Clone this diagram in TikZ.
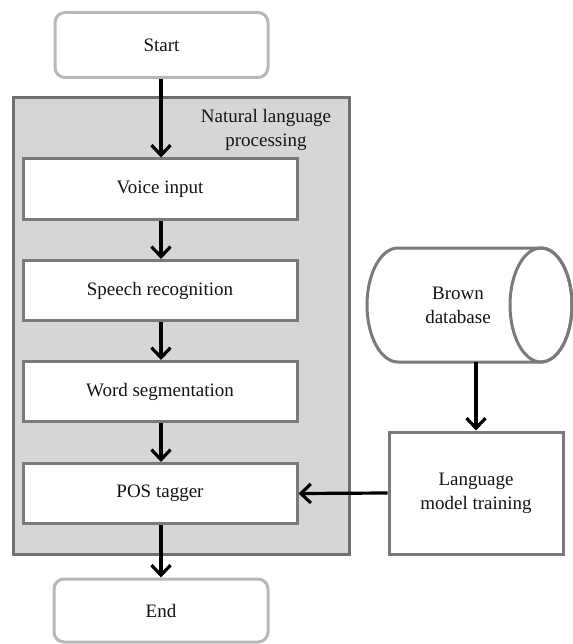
\documentclass[tikz,border=0pt]{standalone}
\usepackage{fontspec}
\setmainfont{Liberation Serif}
\usetikzlibrary{arrows.meta}

\definecolor{termline}{RGB}{184,184,184}
\definecolor{boxline}{RGB}{122,122,122}
\definecolor{groupline}{RGB}{112,112,112}
\definecolor{groupfill}{RGB}{214,214,214}
\definecolor{ink}{RGB}{20,20,20}

\tikzset{
  txt/.style={font=\fontsize{19}{24}\selectfont, text=ink, align=center},
  terminal/.style={txt, draw=termline, line width=3pt, fill=white,
    rounded corners=10pt, inner sep=0pt, minimum width=213pt, minimum height=65pt},
  stepbox/.style={txt, draw=boxline, line width=3pt, fill=white,
    inner sep=0pt, minimum width=274pt, minimum height=60pt},
  group/.style={draw=groupline, line width=3pt, fill=groupfill, inner sep=0pt},
  dbline/.style={draw=boxline, line width=3pt},
  flow/.style={line width=3.2pt, black,
    -{Straight Barb[length=10pt,width=19pt,line width=3.2pt]}}
}

\begin{document}
\begin{tikzpicture}[x=1pt,y=-1pt]
  \useasboundingbox (0,0) rectangle (572,644);

  % processing group
  \node[group, minimum width=336pt, minimum height=456pt] (nlp) at (181,326) {};
  \node[txt] (nlplabel) at (266,130) {Natural language\\processing};

  % main flow
  \node[terminal] (start) at (161.5,45) {Start};
  \node[stepbox] (voice)  at (160,189)   {Voice input};
  \node[stepbox] (speech) at (160,290.5) {Speech recognition};
  \node[stepbox] (word)   at (160,391.5) {Word segmentation};
  \node[stepbox] (pos)    at (160,493.5) {POS tagger};
  \node[terminal, minimum width=214pt, minimum height=63pt] (end) at (161,610.5) {End};

  % database drum lying on its side (x radius 31, y radius 57)
  \node[inner sep=0pt, minimum width=204pt, minimum height=114pt] (db) at (469,305) {};
  \filldraw[dbline, fill=white]
    (398,248) -- (541,248) arc[start angle=-90, end angle=90, x radius=31, y radius=57]
    -- (398,362) arc[start angle=90, end angle=270, x radius=31, y radius=57] -- cycle;
  \draw[dbline] (541,305) ellipse[x radius=31, y radius=57];
  \node[txt] (dblabel) at (458,305) {Brown\\database};

  \node[txt, draw=boxline, line width=3pt, fill=white, inner sep=0pt,
        minimum width=174pt, minimum height=122pt] (lm) at (476,493) {Language\\model training};

  % connectors
  \draw[flow] (start.south -| 161,0) -- (voice.north -| 161,0);
  \draw[flow] (voice.south -| 161,0) -- (speech.north -| 161,0);
  \draw[flow] (speech.south -| 161,0) -- (word.north -| 161,0);
  \draw[flow] (word.south -| 161,0) -- (pos.north -| 161,0);
  \draw[flow] (pos.south -| 161,0) -- (end.north -| 161,0);
  \draw[flow] (db.south -| lm.north) -- (lm.north);
  \draw[flow] (lm.west) -- (pos.east);
\end{tikzpicture}
\end{document}
